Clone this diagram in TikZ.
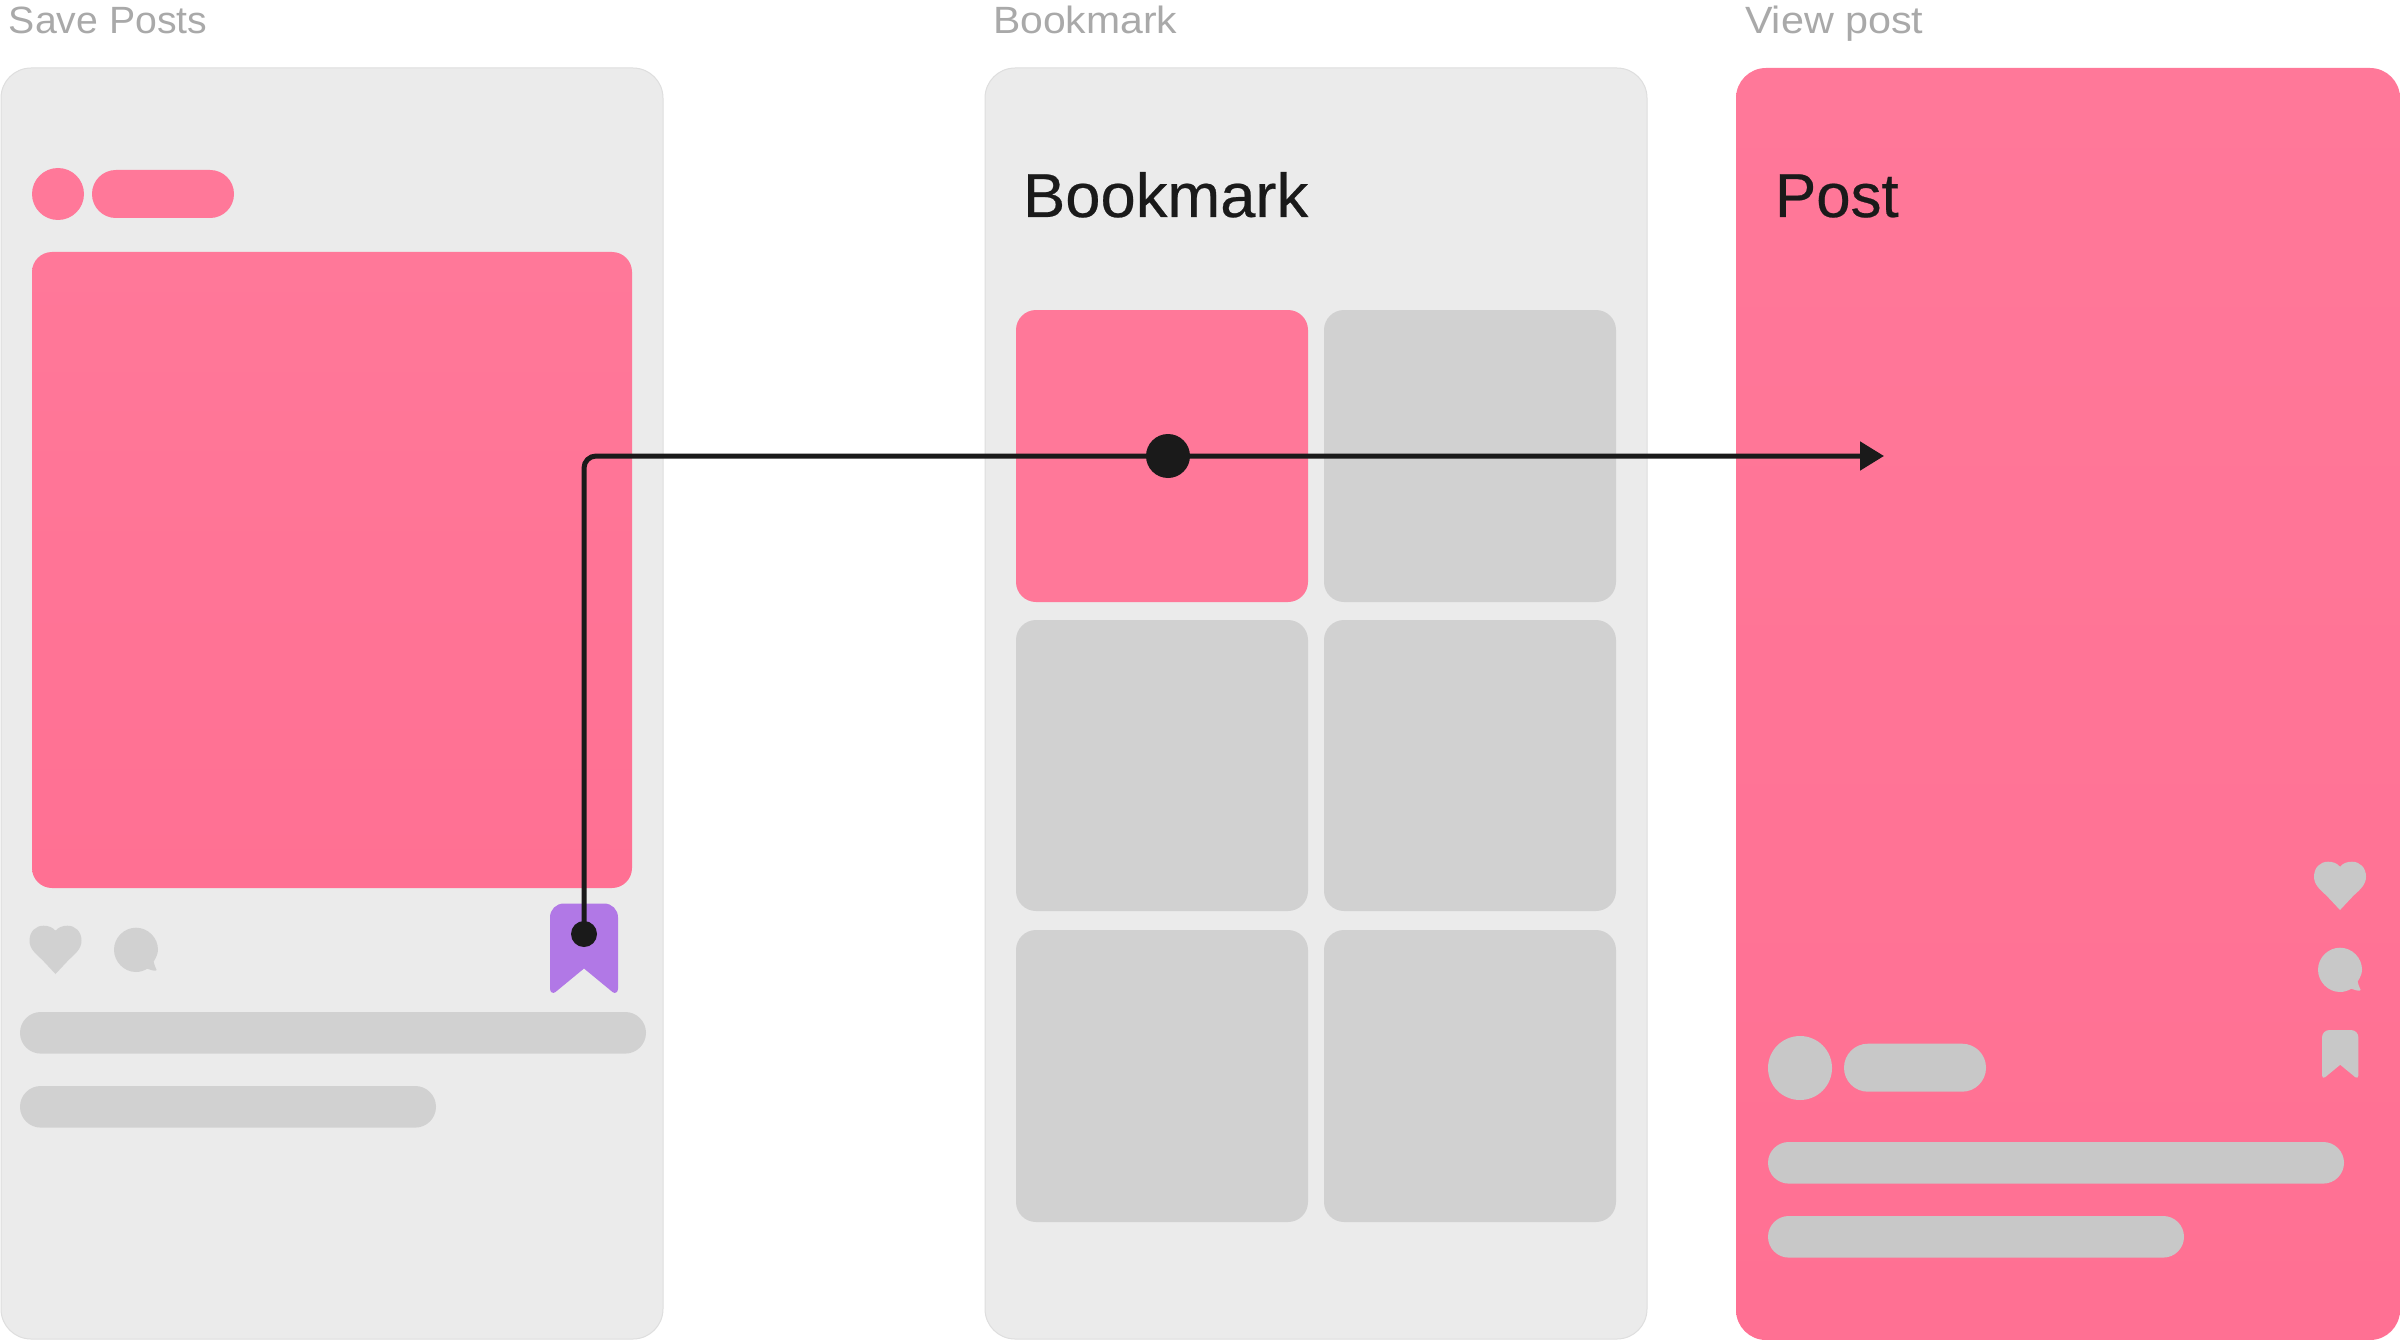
\documentclass[tikz,border=0pt]{standalone}
\usepackage{fontspec}
\setmainfont{Liberation Sans}
\newfontfamily\capfont[FakeStretch=1.032]{Liberation Sans}
\newfontfamily\capfontwide[FakeStretch=1.077]{Liberation Sans}
\newfontfamily\capfontwider[FakeStretch=1.088]{Liberation Sans}
\newfontfamily\headfont[FakeStretch=1.022,FakeBold=0.4]{Liberation Sans}
\newfontfamily\headfontnarrow[FakeStretch=0.997,FakeBold=0.4]{Liberation Sans}
\usetikzlibrary{arrows.meta}
\definecolor{panelgrey}{HTML}{EBEBEB}
\definecolor{panelline}{HTML}{DEDEDE}
\definecolor{cellgrey}{HTML}{D1D1D1}
\definecolor{pillgrey}{HTML}{C8C8C8}
\definecolor{pinktop}{HTML}{FF7899}
\definecolor{pinkbot}{HTML}{FF7093}
\definecolor{pinkflat}{HTML}{FF7899}
\definecolor{markpurple}{HTML}{B178E6}
\definecolor{inkdark}{HTML}{1A1A1A}
\definecolor{labelgrey}{HTML}{A9A9A9}
\newcommand{\pxbox}[6]{%
  \pgfmathsetmacro{\bw}{#5-#3}\pgfmathsetmacro{\bh}{#6-#4}%
  \pgfmathsetmacro{\bcx}{(#3+#5)/2}\pgfmathsetmacro{\bcy}{(#4+#6)/2}%
  \node[boxbase,minimum width=\bw pt,minimum height=\bh pt,#2] (#1) at (\bcx,\bcy) {};}
\tikzset{
  boxbase/.style={rectangle,inner sep=0pt,outer sep=0pt,draw=none},
  panel/.style={fill=panelgrey,draw=panelline,line width=1pt,rounded corners=30pt},
  pinkpanel/.style={top color=pinktop,bottom color=pinkbot,rounded corners=30pt},
  pinkimage/.style={top color=pinktop,bottom color=pinkbot,rounded corners=20pt},
  pinkcell/.style={fill=pinkflat,rounded corners=20pt},
  greycell/.style={fill=cellgrey,rounded corners=20pt},
  pinkpill/.style={fill=pinkflat,rounded corners=23.9pt},
  pillA/.style={fill=cellgrey,rounded corners=20.8pt},
  pillB/.style={fill=pillgrey,rounded corners=20.8pt},
  pillC/.style={fill=pillgrey,rounded corners=23.9pt},
  caption/.style={anchor=base west,inner sep=0pt,outer sep=0pt,text=labelgrey,font=\capfont\fontsize{38}{38}\selectfont},
  captionwide/.style={caption,font=\capfontwide\fontsize{38}{38}\selectfont},
  captionwider/.style={caption,font=\capfontwider\fontsize{38}{38}\selectfont},
  heading/.style={anchor=base west,inner sep=0pt,outer sep=0pt,text=inkdark,font=\headfont\fontsize{62}{62}\selectfont},
  headingnarrow/.style={heading,font=\headfontnarrow\fontsize{62}{62}\selectfont},
  dotnode/.style={circle,fill=inkdark,inner sep=0pt,outer sep=0pt},
  roundnode/.style={circle,inner sep=0pt,outer sep=0pt},
  connector/.style={draw=inkdark,line width=5pt,rounded corners=12pt,-{Triangle[length=24pt,width=28pt]}},
  heart/.pic={
    \fill[pic actions] (26,5) .. controls (23,1.5) and (19,0) .. (14,0)
      .. controls (6,0) and (0,6) .. (0,15) .. controls (0,23) and (6,28) .. (12.6,34)
      -- (26,48.3) -- (39.4,34) .. controls (46,28) and (52,23) .. (52,15)
      .. controls (52,6) and (46,0) .. (38,0) .. controls (33,0) and (29,1.5) .. (26,5) -- cycle;
  },
  bubble/.pic={
    \fill[pic actions] (22,0) .. controls (34,0) and (44,10) .. (44,22)
      .. controls (44,26) and (42,30) .. (39.6,34) .. controls (39.8,37) and (42,40) .. (42.5,42)
      .. controls (42.5,43.5) and (40,43.5) .. (33.3,41)
      .. controls (30,43) and (26,44.3) .. (22,44.3)
      .. controls (10,44.3) and (0,34) .. (0,22) .. controls (0,10) and (10,0) .. (22,0) -- cycle;
  },
  bookmark/.pic={
    \fill[pic actions] (0,14) .. controls (0,6) and (6,0) .. (14,0) -- (54,0)
      .. controls (62,0) and (68,6) .. (68,14) -- (68,85)
      .. controls (68,89) and (65,90.5) .. (62.5,88.5) -- (34,65) -- (5.5,88.5)
      .. controls (3,90.5) and (0,89) .. (0,85) -- cycle;
  }
}
\begin{document}
\begin{tikzpicture}[x=1pt,y=-1pt]
\useasboundingbox (0,0) rectangle (2400,1340);
% captions
\node[caption] (capA) at (9,34) {Save Posts};
\node[captionwide] (capB) at (993,34) {Bookmark};
\node[captionwider] (capC) at (1745,34) {View post};
% panels
\pxbox{panelA}{panel}{1}{68}{663}{1339}
\pxbox{panelB}{panel}{985}{68}{1647}{1339}
\pxbox{panelC}{pinkpanel}{1736}{68}{2400}{1340}
% panel A
\node[roundnode,fill=pinkflat,minimum size=52pt] (avatarA) at (58,194) {};
\pxbox{namePillA}{pinkpill}{92}{170}{234}{218}
\pxbox{image}{pinkimage}{32}{252}{632}{888}
\pic[fill=cellgrey] at (29.5,925.7) {heart};
\pic[fill=cellgrey] at (114,927.7) {bubble};
\pic[fill=markpurple] at (550,903.5) {bookmark};
\pxbox{lineA}{pillA}{20}{1012}{646}{1053.6}
\pxbox{lineB}{pillA}{20}{1086}{436}{1127.6}
% panel B
\node[heading] (titleB) at (1023,217) {Bookmark};
\pxbox{cellA}{pinkcell}{1016}{310}{1308}{602}
\pxbox{cellB}{greycell}{1324}{310}{1616}{602}
\pxbox{cellC}{greycell}{1016}{620}{1308}{911}
\pxbox{cellD}{greycell}{1324}{620}{1616}{911}
\pxbox{cellE}{greycell}{1016}{930}{1308}{1222}
\pxbox{cellF}{greycell}{1324}{930}{1616}{1222}
% panel C
\node[headingnarrow] (titleC) at (1775,217) {Post};
\pic[fill=pillgrey] at (2314,861.7) {heart};
\pic[fill=pillgrey] at (2318,947.7) {bubble};
\pic[fill=pillgrey,scale=.535] at (2322,1030) {bookmark};
\node[roundnode,fill=pillgrey,minimum size=64pt] (avatarC) at (1800,1068) {};
\pxbox{namePillC}{pillC}{1844}{1043.7}{1986}{1091.7}
\pxbox{lineC}{pillB}{1768}{1142}{2344}{1183.6}
\pxbox{lineD}{pillB}{1768}{1216}{2184}{1257.6}
% connector
\coordinate (arrowEnd) at (1884,456);
\coordinate (hubPoint) at (1168,456);
\node[dotnode,minimum size=26pt] (startDot) at (584,934) {};
\draw[connector] (startDot.center) |- (hubPoint) -- (arrowEnd);
\node[dotnode,minimum size=44pt] (hubDot) at (hubPoint) {};
\end{tikzpicture}
\end{document}
